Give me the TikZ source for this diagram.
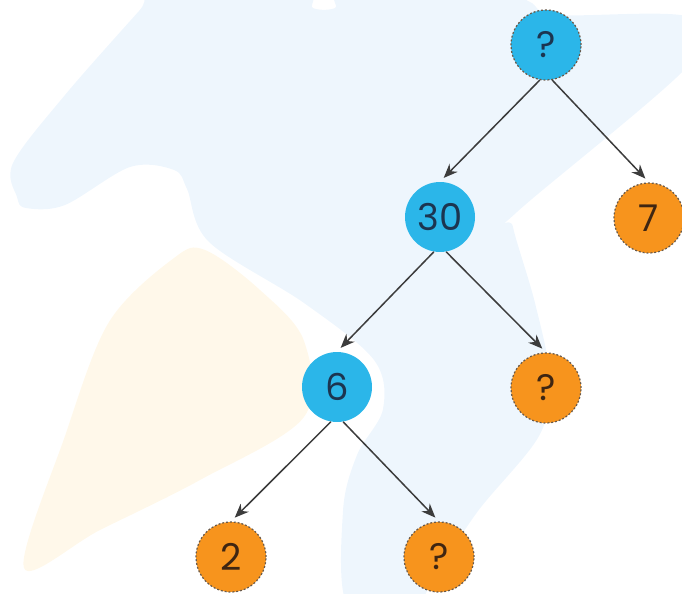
\documentclass[tikz,border=0pt]{standalone}
\usepackage{fontspec}
\setmainfont{Poppins}
\usetikzlibrary{arrows.meta}

\definecolor{nodeblue}{HTML}{2BB6E9}
\definecolor{nodeorange}{HTML}{F7941D}
\definecolor{textnavy}{HTML}{1C3550}
\definecolor{textbrown}{HTML}{3F2612}
\definecolor{rimgray}{HTML}{6A5A4A}
\definecolor{linegray}{HTML}{3C3C3C}
\definecolor{shadeblue}{HTML}{EEF6FD}
\definecolor{shadeyellow}{HTML}{FFF8EA}

\begin{document}
\begin{tikzpicture}[x=0.02cm, y=-0.02cm, >={Stealth[length=8pt,width=6.5pt]},
  treenode/.style={circle, minimum size=1.4cm, inner sep=0pt, font=\fontsize{21}{24}\selectfont},
  bluenode/.style={treenode, fill=nodeblue, text=textnavy},
  rimnode/.style={draw=rimgray, line width=0.7pt, dash pattern=on 1.1pt off 1.1pt},
  orangenode/.style={treenode, rimnode, fill=nodeorange, text=textbrown},
  link/.style={->, draw=linegray, line width=0.85pt, shorten >=3pt}]
  \useasboundingbox (0,0) rectangle (682,594);

  %background shapes
  \begin{scope}
    \clip (0,0) rectangle (682,594);
    \fill[shadeblue] plot[smooth cycle, tension=0.55] coordinates {
      (17,197) (13,163) (65,95) (139,11) (157,-8) (300,-8) (313,8) (335,8)
      (348,-8) (500,-8) (530,2) (557,15) (690,17) (690,64) (517,212)
      (513,227) (535,303) (550,379) (539,436) (478,511) (435,576) (413,606)
      (348,606) (343,511) (357,455) (383,409) (374,360) (304,303) (209,242)
      (187,189) (174,170) (130,167) (65,205) (26,208)};
    \fill[shadeyellow] plot[smooth cycle, tension=0.55] coordinates {
      (24,568) (65,436) (109,322) (174,258) (205,250) (260,290) (304,341)
      (304,417) (200,480) (100,530)};
  \end{scope}

  %coordinates
  \coordinate (RootPos)   at (546,45);
  \coordinate (ThirtyPos) at (440,217);
  \coordinate (SevenPos)  at (649,218);
  \coordinate (SixPos)    at (337,387);
  \coordinate (MidPos)    at (546,388);
  \coordinate (TwoPos)    at (231,557);
  \coordinate (LowPos)    at (439,557);

  %nodes
  \node[bluenode, rimnode] (R) at (RootPos)   {?};
  \node[bluenode]          (A) at (ThirtyPos) {30};
  \node[orangenode]        (B) at (SevenPos)  {7};
  \node[bluenode]          (C) at (SixPos)    {6};
  \node[orangenode]        (D) at (MidPos)    {?};
  \node[orangenode]        (E) at (TwoPos)    {2};
  \node[orangenode]        (F) at (LowPos)    {?};

  %edges
  \draw[link] (R.260) -- (A.north);
  \draw[link] (R.280) -- (B.north);
  \draw[link] (A.260) -- (C.north);
  \draw[link] (A.280) -- (D.north);
  \draw[link] (C.260) -- (E.north);
  \draw[link] (C.280) -- (F.north);
\end{tikzpicture}
\end{document}
